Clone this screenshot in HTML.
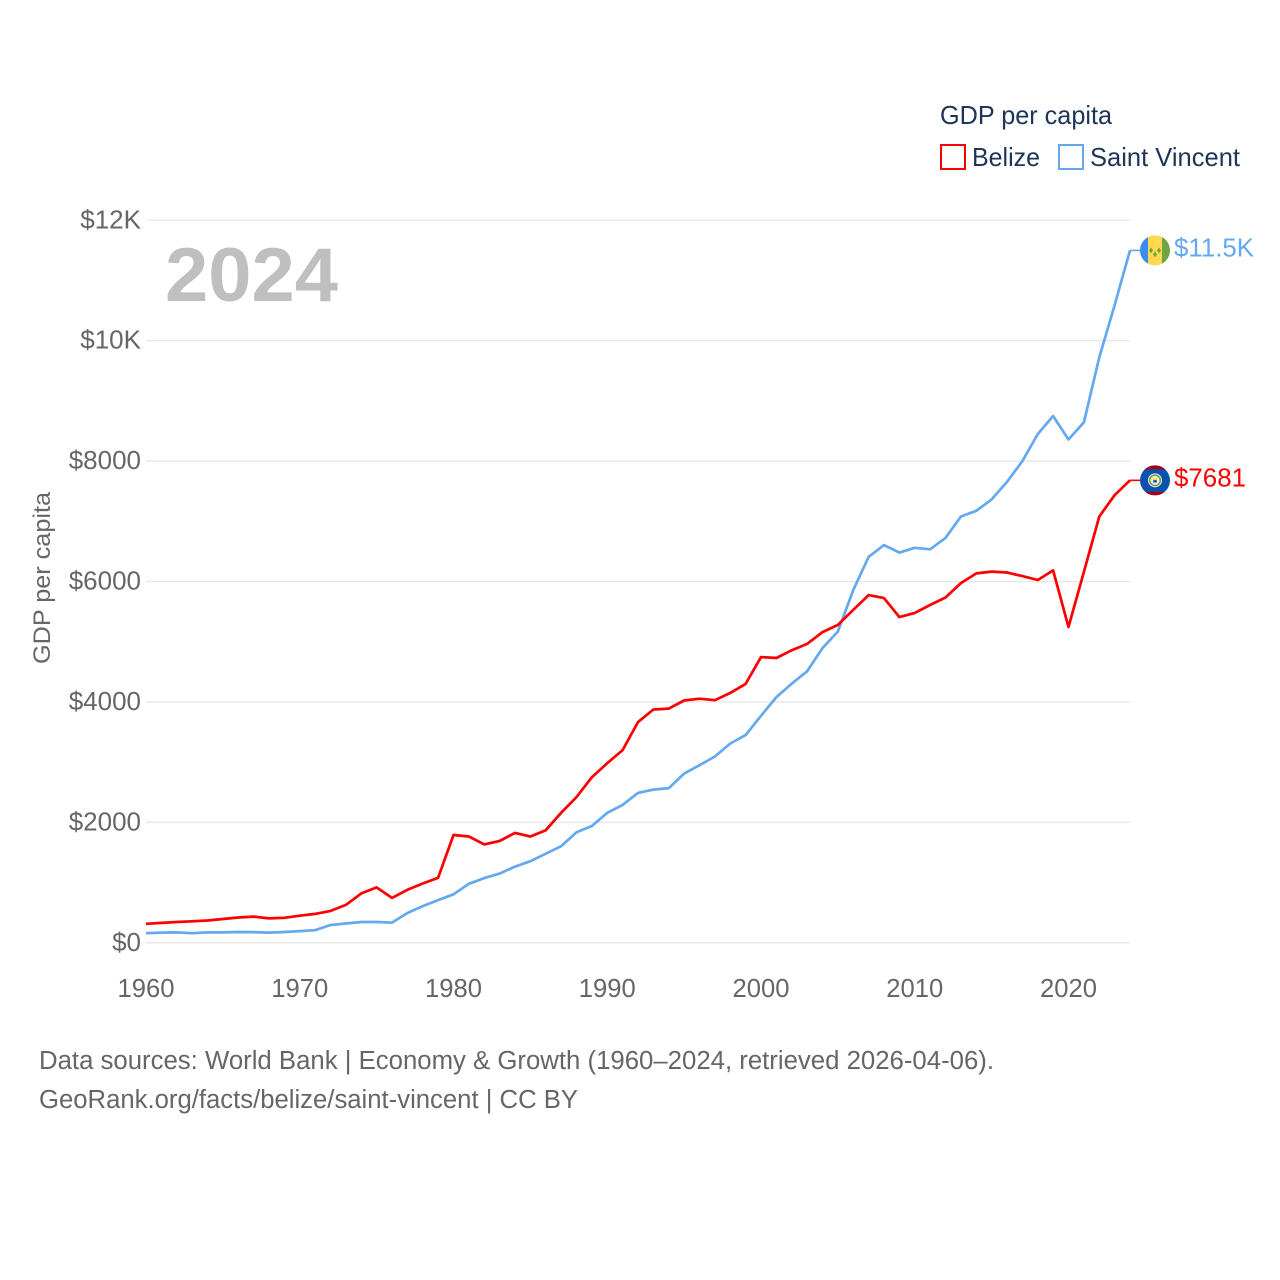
<!DOCTYPE html>
<html lang="en">
<head>
<meta charset="utf-8">
<title>GDP per capita: Belize and Saint Vincent</title>
<style>
html,body{margin:0;padding:0;background:#fff;width:1280px;height:1280px;overflow:hidden}
svg{display:block}
text{font-family:"Liberation Sans",sans-serif}
</style>
</head>
<body>
<svg id="chart" width="1280" height="1280" viewBox="0 0 1280 1280" xmlns="http://www.w3.org/2000/svg">
  <defs>
    <clipPath id="flag-clip-a"><circle cx="0" cy="0" r="15"/></clipPath>
    <clipPath id="flag-clip-b"><circle cx="0" cy="0" r="15"/></clipPath>
  </defs>
  <rect x="0" y="0" width="1280" height="1280" fill="#fff"/>
  <g id="grid"></g>
  <g id="y-ticks"></g>
  <g id="x-ticks"></g>

  <text transform="translate(50,664) rotate(-90)" font-size="24.5" fill="#666" textLength="172" lengthAdjust="spacingAndGlyphs">GDP per capita</text>
  <text x="165" y="301" font-size="76" font-weight="700" fill="#bfbfbf" textLength="173" lengthAdjust="spacingAndGlyphs">2024</text>

  <text x="940" y="124" font-size="26" fill="#1d3557" textLength="172" lengthAdjust="spacingAndGlyphs">GDP per capita</text>
  <g>
    <rect x="941" y="145" width="24" height="24" fill="#fff" stroke="#ff0000" stroke-width="2"/>
    <text x="972" y="166" font-size="26" fill="#1d3557" textLength="68" lengthAdjust="spacingAndGlyphs">Belize</text>
  </g>
  <g>
    <rect x="1059" y="145" width="24" height="24" fill="#fff" stroke="#64a8f0" stroke-width="2"/>
    <text x="1090" y="166" font-size="26" fill="#1d3557" textLength="150" lengthAdjust="spacingAndGlyphs">Saint Vincent</text>
  </g>

  <g id="series"></g>

  <g id="flag-vc">
    <g clip-path="url(#flag-clip-a)">
      <rect x="-15" y="-15" width="8" height="30" fill="#3b8cf0"/>
      <rect x="-7" y="-15" width="14" height="30" fill="#ffd84f"/>
      <rect x="7" y="-15" width="8" height="30" fill="#6da544"/>
      <polygon points="-4,-3 -2,0 -4,3 -6,0" fill="#6da544"/>
      <polygon points="4,-3 6,0 4,3 2,0" fill="#6da544"/>
      <polygon points="0,1 2,4 0,7 -2,4" fill="#6da544"/>
    </g>
  </g>
  <g id="flag-bz">
    <g clip-path="url(#flag-clip-b)">
      <rect x="-15" y="-15" width="30" height="30" fill="#0b52b0"/>
      <rect x="-15" y="-15" width="30" height="4" fill="#a2001d"/>
      <rect x="-15" y="11.5" width="30" height="3.5" fill="#a2001d"/>
      <circle cx="0" cy="0" r="7" fill="#f0f0f0"/>
      <circle cx="0" cy="0" r="5.3" fill="none" stroke="#6da544" stroke-width="1.6"/>
      <rect x="-2.5" y="-2.2" width="5" height="2" fill="#ffda44"/>
      <rect x="-1.8" y="-0.2" width="3.6" height="2.4" fill="#0b52b0"/>
    </g>
  </g>
  <text id="label-vc" x="1174" font-size="26" fill="#64a8f0" textLength="80" lengthAdjust="spacingAndGlyphs">$11.5K</text>
  <text id="label-bz" x="1174" font-size="26" fill="#ff0000" textLength="72" lengthAdjust="spacingAndGlyphs">$7681</text>

  <text x="39" y="1069" font-size="25.5" fill="#666" textLength="955" lengthAdjust="spacingAndGlyphs">Data sources: World Bank | Economy &amp; Growth (1960–2024, retrieved 2026-04-06).</text>
  <text x="39" y="1108" font-size="25.5" fill="#666" textLength="539" lengthAdjust="spacingAndGlyphs">GeoRank.org/facts/belize/saint-vincent | CC BY</text>
</svg>
<script>
const years = [1960,1961,1962,1963,1964,1965,1966,1967,1968,1969,1970,1971,1972,1973,1974,1975,1976,1977,1978,1979,1980,1981,1982,1983,1984,1985,1986,1987,1988,1989,1990,1991,1992,1993,1994,1995,1996,1997,1998,1999,2000,2001,2002,2003,2004,2005,2006,2007,2008,2009,2010,2011,2012,2013,2014,2015,2016,2017,2018,2019,2020,2021,2022,2023,2024];
const belize = [315,330,345,357,370,395,420,435,405,415,450,480,530,630,820,920,745,880,985,1080,1790,1765,1635,1690,1825,1765,1870,2160,2420,2750,2985,3200,3665,3875,3890,4025,4055,4030,4150,4300,4745,4730,4860,4965,5160,5280,5530,5775,5725,5410,5480,5610,5735,5975,6135,6165,6150,6090,6025,6185,5245,6160,7080,7435,7681];
const saintVincent = [160,170,172,160,172,172,180,178,170,180,195,210,295,320,345,345,335,495,610,710,805,980,1075,1150,1265,1355,1480,1605,1835,1940,2160,2290,2490,2545,2570,2810,2950,3095,3310,3450,3770,4080,4305,4510,4895,5170,5860,6410,6605,6480,6560,6535,6725,7080,7175,7365,7655,8000,8450,8750,8360,8645,9725,10590,11500];
const yTickValues = [0,2000,4000,6000,8000,10000,12000];
const yTickLabels = ["$0","$2000","$4000","$6000","$8000","$10K","$12K"];
const xTickValues = [1960,1970,1980,1990,2000,2010,2020];
const endLabelBelize = "$7681";
const endLabelSaintVincent = "$11.5K";

const SVG_NS = "http://www.w3.org/2000/svg";
function xScale(year){ return 146 + (year - 1960) * (1130 - 146) / 64; }
function yScale(v){ return 942.8 - v * (942.8 - 220.3) / 12000; }
function make(tag, attrs, parent){
  const el = document.createElementNS(SVG_NS, tag);
  for (const k in attrs) el.setAttribute(k, attrs[k]);
  parent.appendChild(el);
  return el;
}

const gridG = document.getElementById("grid");
const yG = document.getElementById("y-ticks");
yTickValues.forEach(function(v, i){
  const y = yScale(v);
  const line = make("line", {x1:146, x2:1130, y1:y, y2:y, stroke:"#e8e8e8", "stroke-width":1.4}, gridG);
  
  
  const t = make("text", {x:141, y:y + 8, "text-anchor":"end", "font-size":26, fill:"#666"}, yG);
  
  
  t.textContent = yTickLabels[i];
});

const xG = document.getElementById("x-ticks");
xTickValues.forEach(function(v){
  const t = make("text", {x:xScale(v), y:997, "text-anchor":"middle", "font-size":25.6, fill:"#666"}, xG);
  
  
  t.textContent = v;
});

function linePoints(values){
  return values.map(function(v, i){ return xScale(years[i]).toFixed(1) + "," + yScale(v).toFixed(1); }).join(" ");
}
const seriesG = document.getElementById("series");

const blueLine = make("polyline", {points:linePoints(saintVincent), fill:"none", stroke:"#64a8f0", "stroke-width":2.7, "stroke-linejoin":"round"}, seriesG);



const redLine = make("polyline", {points:linePoints(belize), fill:"none", stroke:"#ff0000", "stroke-width":2.7, "stroke-linejoin":"round"}, seriesG);



function placeEnd(values, color, flagId, labelId, text, leaderName){
  const last = values[values.length - 1];
  const y = yScale(last);
  const x = xScale(years[years.length - 1]);
  const leader = make("line", {x1:x, x2:1140, y1:y, y2:y, stroke:color, "stroke-width":1.6}, seriesG);
  
  
  document.getElementById(flagId).setAttribute("transform", "translate(1155," + y + ")");
  const label = document.getElementById(labelId);
  label.setAttribute("y", y + 6);
  label.textContent = text;
}
placeEnd(saintVincent, "#64a8f0", "flag-vc", "label-vc", endLabelSaintVincent, "saint-vincent-leader-line");
placeEnd(belize, "#ff0000", "flag-bz", "label-bz", endLabelBelize, "belize-leader-line");
</script>
</body>
</html>
